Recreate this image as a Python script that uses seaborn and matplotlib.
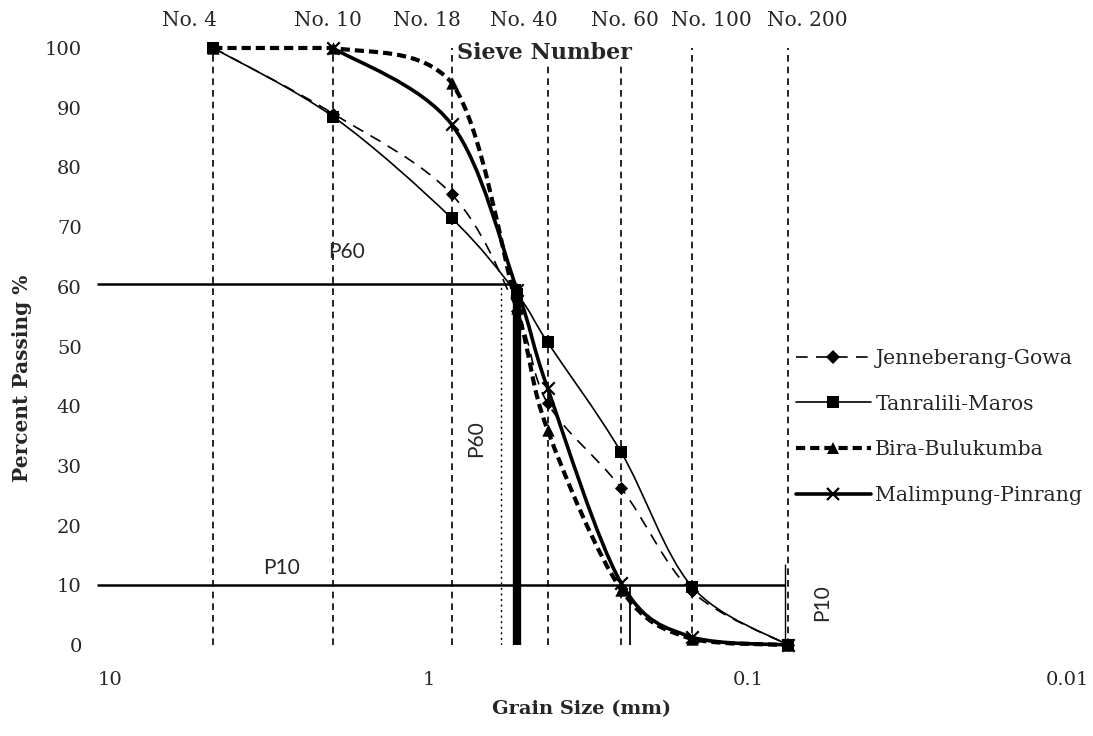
import numpy as np
import pandas as pd
import matplotlib
matplotlib.use("Agg")
import matplotlib.pyplot as plt
import seaborn as sns
from matplotlib.path import Path
from matplotlib.patches import PathPatch
from matplotlib.lines import Line2D
from matplotlib.ticker import NullLocator

# sieves shown as dashed verticals
sieve_names = ["No. 4", "No. 10", "No. 18", "No. 40", "No. 60", "No. 100", "No. 200"]
sieve_mm = [4.75, 2.0, 0.85, 0.425, 0.25, 0.15, 0.075]

# grading curves (percent passing), nan = not plotted
grain_mm = [4.75, 2.0, 0.85, 0.53, 0.425, 0.25, 0.15, 0.075]
jenneberang = [100, 89, 75.5, 56, 40.5, 26.3, 9.0, 0]
tanralili = [100, 88.5, 71.5, 58.8, 50.7, 32.3, 9.8, 0]
bira = [100, 100, 94.2, 56.5, 36, 9.3, 1.0, 0]
malimpung = [np.nan, 100, 87.2, 59.5, 43, 10.4, 1.3, 0]
series_names = ["Jenneberang-Gowa", "Tanralili-Maros", "Bira-Bulukumba", "Malimpung-Pinrang"]

# P60 / P10 reading lines
p60_level = 60.5
p10_level = 10
d60_mm = 0.53
d60_side_mm = 0.595
d10_mm = 0.234
d10_side_mm = 0.0765

x_ticks = [10, 1, 0.1, 0.01]
x_tick_labels = ["10", "1", "0.1", "0.01"]
y_ticks = list(range(0, 101, 10))

sns.set_style("white")
plt.rcParams["font.family"] = ["DejaVu Serif"]

styles = {
    "Jenneberang-Gowa": dict(ls=(0, (7, 5)), lw=1.2, marker="D", s=45),
    "Tanralili-Maros": dict(ls="-", lw=1.2, marker="s", s=75),
    "Bira-Bulukumba": dict(ls=(0, (2.2, 1.2)), lw=3.0, marker="^", s=80),
    "Malimpung-Pinrang": dict(ls="-", lw=2.6, marker="x", s=80),
}
# nudge of the sieve names above the plot (points)
name_shift = [-17, -4, -18, -17, 3, 14, 14]


def smooth_path(xs, ys):
    # excel-like smoothed line: catmull-rom bezier in log-x space,
    # control heights kept inside each segment so nothing overshoots
    lx = np.log10(xs)
    y = np.asarray(ys, float)
    px = np.r_[lx[0], lx, lx[-1]]
    py = np.r_[y[0], y, y[-1]]
    verts = [(xs[0], ys[0])]
    codes = [Path.MOVETO]
    for i in range(1, len(px) - 2):
        lo, hi = min(py[i], py[i + 1]), max(py[i], py[i + 1])
        c1x = px[i] + (px[i + 1] - px[i - 1]) / 6
        c1y = np.clip(py[i] + (py[i + 1] - py[i - 1]) / 6, lo, hi)
        c2x = px[i + 1] - (px[i + 2] - px[i]) / 6
        c2y = np.clip(py[i + 1] - (py[i + 2] - py[i]) / 6, lo, hi)
        verts += [(10 ** c1x, c1y), (10 ** c2x, c2y), (10 ** px[i + 1], py[i + 1])]
        codes += [Path.CURVE4] * 3
    return Path(verts, codes)


fig = plt.figure(figsize=(10.93, 7.36), dpi=100)
ax = fig.add_axes([0.0887, 0.1236, 0.8875, 0.8112])
ax.set_xscale("log")
xmin, xmax = 11, 0.01
ax.set_xlim(xmin, xmax)
ax.set_ylim(0, 100)

# sieve verticals
ax.vlines(sieve_mm, 0, 100, colors="black", linestyles=(0, (4, 3)), lw=1.2, zorder=1)
for name, d, dx in zip(sieve_names, sieve_mm, name_shift):
    ax.annotate(name, xy=(d, 1), xycoords=("data", "axes fraction"), xytext=(dx, 20),
                textcoords="offset points", ha="center", va="center", fontsize=14.5)

# P60 / P10 lines
ax.hlines(p60_level, xmin, d60_mm, colors="black", lw=1.8, zorder=2)
ax.hlines(p10_level, xmin, d10_side_mm, colors="black", lw=1.8, zorder=2)
ax.vlines(d60_mm, 0, p60_level, colors="black", lw=6, zorder=2)
ax.vlines(d60_side_mm, 0, p60_level, colors="black", lw=1.0, linestyles=(0, (1.5, 2.5)), zorder=2)
ax.vlines(d10_mm, 0, p10_level, colors="black", lw=1.3, zorder=2)
ax.vlines(d10_side_mm, 0, p10_level + 3.5, colors="black", lw=1.0, zorder=2)

ax.text(2.07, 65.9, "P60", family="Lato", fontsize=15, ha="left", va="center")
ax.text(3.32, 12.9, "P10", family="Lato", fontsize=15, ha="left", va="center")
ax.text(0.71, 34.5, "P60", family="Lato", fontsize=15, rotation=90, ha="center", va="center")
ax.text(0.0586, 7.1, "P10", family="Lato", fontsize=15, rotation=90, ha="center", va="center")
ax.text(0.436, 99.2, "Sieve Number", fontsize=16, fontweight="bold", ha="center", va="center",
        zorder=6, bbox=dict(facecolor="white", edgecolor="none", pad=1))

# curves + markers
handles = []
for name, vals in zip(series_names, [jenneberang, tanralili, bira, malimpung]):
    st = styles[name]
    df = pd.DataFrame({"grain_mm": grain_mm, "passing": vals}).dropna()
    ax.add_patch(PathPatch(smooth_path(df["grain_mm"].to_numpy(), df["passing"].to_numpy()),
                           fill=False, edgecolor="black", lw=st["lw"], linestyle=st["ls"],
                           zorder=3, capstyle="butt", clip_on=False))
    sns.scatterplot(data=df, x="grain_mm", y="passing", marker=st["marker"], s=st["s"],
                    color="black", linewidth=1.6 if st["marker"] == "x" else 0,
                    ax=ax, zorder=4, clip_on=False, legend=False)
    handles.append(Line2D([], [], color="black", ls=st["ls"], lw=st["lw"], marker=st["marker"],
                          markersize=np.sqrt(st["s"]), markeredgewidth=1.6 if st["marker"] == "x" else 0))

ax.legend(handles, series_names, loc="upper left", bbox_to_anchor=(0.728, 0.526),
          bbox_transform=fig.transFigure, frameon=False, handlelength=3.7, handletextpad=0.2,
          labelspacing=1.31, borderpad=0, borderaxespad=0, fontsize=14.7)

ax.set_xticks(x_ticks)
ax.set_xticklabels(x_tick_labels)
ax.xaxis.set_minor_locator(NullLocator())
ax.set_yticks(y_ticks)
ax.tick_params(axis="x", length=0, pad=19, labelsize=14)
ax.tick_params(axis="y", length=0, pad=11, labelsize=14)
for sp in ax.spines.values():
    sp.set_visible(False)

ax.set_xlabel("Grain Size (mm)", fontsize=14, fontweight="bold", labelpad=8)
ax.set_ylabel("Percent Passing %", fontsize=14.5, fontweight="bold")
ax.yaxis.set_label_coords(-0.067, 0.447)

fig.savefig("out.png", dpi=100, facecolor="white")
